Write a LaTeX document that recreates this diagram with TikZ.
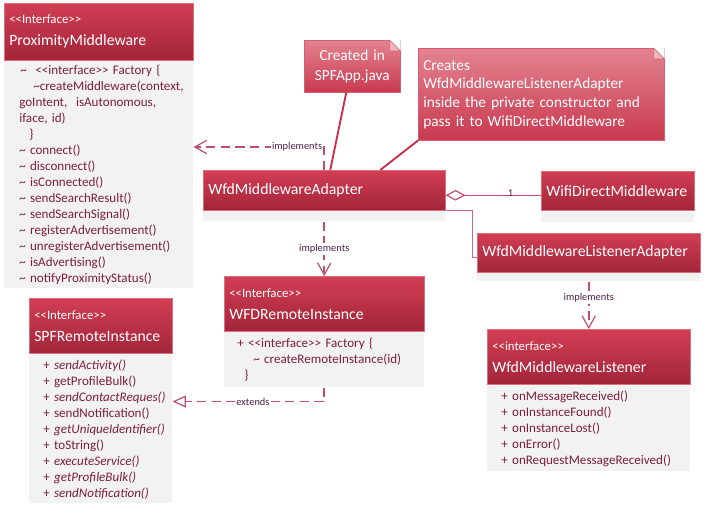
\documentclass[tikz,border=0pt]{standalone}
\usepackage{fontspec}
\setmainfont{Carlito}
\usetikzlibrary{arrows.meta,positioning,calc}
\definecolor{hdrtop}{HTML}{D23E54}
\definecolor{hdrbot}{HTML}{A22539}
\definecolor{hdrbrd}{HTML}{DC6E7E}
\definecolor{notetop}{HTML}{E3838F}
\definecolor{notebot}{HTML}{C9394F}
\definecolor{notebrd}{HTML}{D4606F}
\definecolor{bodygray}{HTML}{F2F2F2}
\definecolor{memtext}{HTML}{7D1E3C}
\definecolor{linkpink}{HTML}{C0506A}
\definecolor{lbltext}{HTML}{4B2148}
\definecolor{notelink}{HTML}{C8304A}
\newdimen\px \px=0.75pt
\newcommand{\stereo}[1]{<\kern0pt<#1>\kern0pt>}
\newcommand{\tld}{\textasciitilde}
\newcommand{\sttype}{\fontsize{9.6}{11}\selectfont}

\begin{document}
\begin{tikzpicture}[
  x=0.75pt,
  y=-0.75pt,
  every node/.style={font=\fontsize{9.8}{12}\selectfont},
  hdr/.style={anchor=north west, top color=hdrtop, bottom color=hdrbot, draw=hdrbrd, line width=0.4pt, text=white, align=left, inner xsep=5\px, inner ysep=0pt, font=\fontsize{11.8}{14}\selectfont},
  body/.style={anchor=north west, fill=bodygray, text=memtext, align=left, inner xsep=5\px, inner ysep=0pt},
  note/.style={anchor=north west, top color=notetop, bottom color=notebot, draw=notebrd, line width=0.4pt, text=white, inner xsep=5\px, inner ysep=0pt, font=\fontsize{11.5}{14}\selectfont},
  impl/.style={draw=linkpink, line width=1.2pt, dash pattern=on 7pt off 4pt, -{Straight Barb[length=9pt,width=10pt,line width=0.9pt]}},
  extline/.style={draw=linkpink, line width=1.2pt, dash pattern=on 7pt off 4pt, -{Triangle[open,length=10pt,width=9pt,line width=0.9pt,fill=white]}},
  aggr/.style={draw=linkpink, line width=1pt, {Diamond[open,length=15pt,width=8pt,line width=0.9pt,fill=white]}-},
  assoc/.style={draw=linkpink!85, line width=1pt},
  noteline/.style={draw=notelink, line width=1.4pt},
  lbl/.style={fill=white, text=lbltext, inner sep=1pt, font=\fontsize{7.8}{9}\selectfont}
]
\useasboundingbox (0,0) rectangle (704,510);

% ProximityMiddleware
\node[hdr, text width=179\px, minimum height=57\px] (prox) at (4,3) {{\sttype\stereo{Interface}}\\[2.5pt]ProximityMiddleware};
\node[body, text width=179\px, minimum height=227\px] (proxbody) at (4,61) {%
\hspace*{11\px}\tld\ \ \stereo{interface} Factory \{\\
\hspace*{24\px}\tld createMiddleware(context,\\
\hspace*{10\px}goIntent,\ \ isAutonomous,\\
\hspace*{10\px}iface, id)\\
\hspace*{20\px}\}\\
\hspace*{10\px}\tld\ connect()\\
\hspace*{10\px}\tld\ disconnect()\\
\hspace*{10\px}\tld\ isConnected()\\
\hspace*{10\px}\tld\ sendSearchResult()\\
\hspace*{10\px}\tld\ sendSearchSignal()\\
\hspace*{10\px}\tld\ registerAdvertisement()\\
\hspace*{10\px}\tld\ unregisterAdvertisement()\\
\hspace*{10\px}\tld\ isAdvertising()\\
\hspace*{10\px}\tld\ notifyProximityStatus()};

% notes
\node[note, align=center, text width=86\px, minimum height=52\px] (spfnote) at (304,40) {Created in\\[1pt]SPFApp.java};
\fill[white] ([xshift=-11\px]spfnote.north east) -- (spfnote.north east) -- ([yshift=-11\px]spfnote.north east) -- cycle;
\filldraw[fill=notetop!60, draw=notebrd, line width=0.4pt] ([xshift=-11\px]spfnote.north east) -- ([xshift=-11\px,yshift=-11\px]spfnote.north east) -- ([yshift=-11\px]spfnote.north east) -- cycle;

\node[note, align=left, text width=236\px, minimum height=92\px] (adapternote) at (418,48) {Creates\\WfdMiddlewareListenerAdapter\\inside the private constructor and\\pass it to WifiDirectMiddleware};
\fill[white] ([xshift=-11\px]adapternote.north east) -- (adapternote.north east) -- ([yshift=-11\px]adapternote.north east) -- cycle;
\filldraw[fill=notetop!60, draw=notebrd, line width=0.4pt] ([xshift=-11\px]adapternote.north east) -- ([xshift=-11\px,yshift=-11\px]adapternote.north east) -- ([yshift=-11\px]adapternote.north east) -- cycle;

% WfdMiddlewareAdapter
\node[hdr, text width=232\px, minimum height=40\px] (adapter) at (203,170) {WfdMiddlewareAdapter};
\node[body, text width=232\px, minimum height=10\px] (adapterbody) at (203,211) {};

% WifiDirectMiddleware
\node[hdr, text width=143\px, minimum height=39\px] (wifi) at (541,171) {WifiDirectMiddleware};
\node[body, text width=143\px, minimum height=10\px] (wifibody) at (541,212) {};

% WfdMiddlewareListenerAdapter
\node[hdr, text width=213\px, minimum height=39\px] (listadapt) at (477,233) {WfdMiddlewareListenerAdapter};
\node[body, text width=213\px, minimum height=8\px] (listadaptbody) at (477,273) {};

% WFDRemoteInstance
\node[hdr, text width=190\px, minimum height=55\px] (wfdremote) at (224,276) {{\sttype\stereo{Interface}}\\[2.5pt]WFDRemoteInstance};
\node[body, text width=190\px, minimum height=55\px] (wfdremotebody) at (224,332) {%
\hspace*{8\px}+ \stereo{interface} Factory \{\\
\hspace*{24\px}\tld\ createRemoteInstance(id)\\
\hspace*{15\px}\}};

% SPFRemoteInstance
\node[hdr, text width=133\px, minimum height=55\px] (spfremote) at (29,298) {{\sttype\stereo{Interface}}\\[2.5pt]SPFRemoteInstance};
\node[body, text width=133\px, minimum height=148\px] (spfbody) at (29,355) {%
\hspace*{9\px}+ \textit{sendActivity()}\\
\hspace*{9\px}+ getProfileBulk()\\
\hspace*{9\px}+ \textit{sendContactReques()}\\
\hspace*{9\px}+ sendNotification()\\
\hspace*{9\px}+ \textit{getUniqueIdentifier()}\\
\hspace*{9\px}+ toString()\\
\hspace*{9\px}+ \textit{executeService()}\\
\hspace*{9\px}+ \textit{getProfileBulk()}\\
\hspace*{9\px}+ \textit{sendNotification()}};

% WfdMiddlewareListener
\node[hdr, text width=193\px, minimum height=55\px] (listener) at (487,329) {{\sttype\stereo{interface}}\\[2.5pt]WfdMiddlewareListener};
\node[body, text width=193\px, minimum height=85\px] (listenerbody) at (487,386) {%
\hspace*{9\px}+ onMessageReceived()\\
\hspace*{9\px}+ onInstanceFound()\\
\hspace*{9\px}+ onInstanceLost()\\
\hspace*{9\px}+ onError()\\
\hspace*{9\px}+ onRequestMessageReceived()};

% connectors
\coordinate (implbend) at (323,147);
\draw[impl] (adapter.north) -- (adapter.north |- implbend) -- node[lbl, pos=0, anchor=east] {implements} (proxbody.east |- implbend);
\draw[noteline] ([xshift=-6\px]spfnote.south) -- ([xshift=6\px]adapter.north);
\draw[noteline] (adapternote.south west) -- ([xshift=56\px]adapter.north);
\draw[aggr] ([yshift=-5\px]adapter.east) -- node[pos=0.68, yshift=2\px, text=lbltext, inner sep=0pt, font=\fontsize{7.8}{9}\selectfont] {1} ([yshift=-5\px]adapter.east -| wifi.west);
\draw[assoc] (adapter.south east) -- ++(27,0) |- ([yshift=-5\px]listadapt.west);
\draw[impl] (adapterbody.south) -- node[lbl] {implements} (wfdremote.north);
\draw[extline] (wfdremotebody.south) -- ++(0,14) coordinate (extbend) -- node[lbl, pos=0.47] {extends} (extbend -| spfbody.east);
\draw[impl] (listadaptbody.south) -- node[lbl, pos=0.35] {implements} (listener.north);
\end{tikzpicture}
\end{document}
